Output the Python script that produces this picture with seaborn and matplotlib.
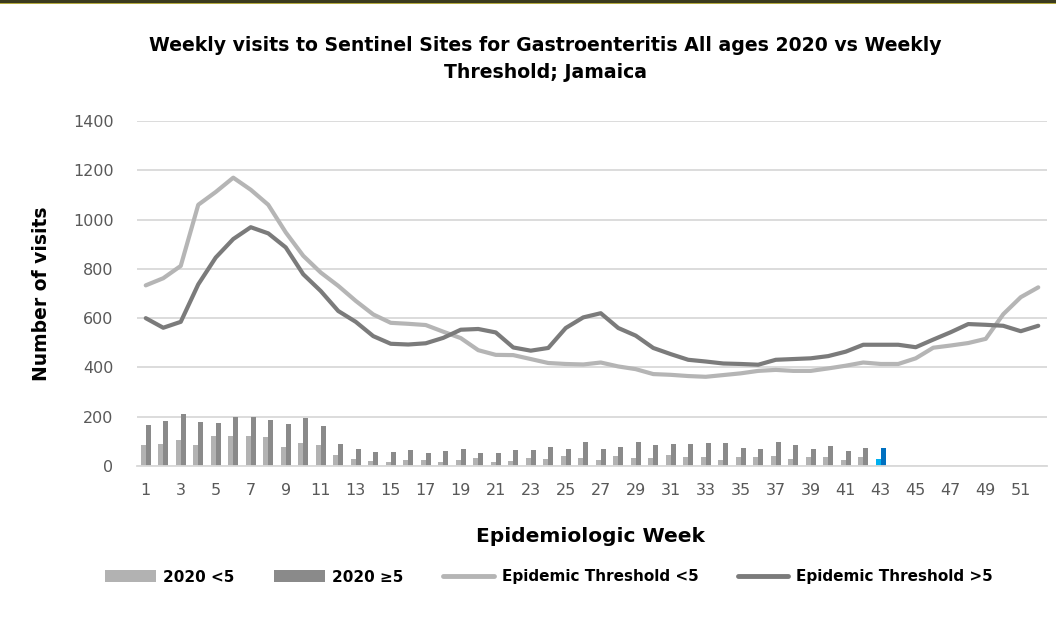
import numpy as np
import pandas as pd
import matplotlib
matplotlib.use("Agg")
import matplotlib.pyplot as plt
from matplotlib.patches import Patch, Rectangle
from matplotlib.lines import Line2D
import seaborn as sns

weeks = list(range(1, 53))
under5_2020 = [84, 90, 107, 84, 122, 120, 121, 117, 76, 92, 86, 44, 27, 19, 18, 23, 23, 15, 26, 34,
               15, 22, 31, 29, 41, 33, 24, 39, 31, 31, 46, 38, 37, 24, 35, 37, 41, 27, 35, 38,
               23, 37, 27]
over5_2020 = [167, 182, 211, 177, 174, 199, 199, 185, 170, 195, 161, 91, 67, 56, 58, 64, 52, 60, 67, 54,
              52, 63, 65, 76, 71, 97, 71, 76, 98, 87, 90, 88, 93, 95, 72, 68, 97, 84, 71, 80,
              60, 72, 72]
threshold_lt5 = [733, 762, 812, 1060, 1112, 1170, 1121, 1060, 948, 853,
                 785, 731, 670, 615, 581, 577, 572, 545, 519, 470,
                 451, 450, 434, 418, 414, 412, 420, 404, 393, 373,
                 370, 365, 362, 369, 376, 386, 390, 386, 386, 396,
                 407, 420, 414, 414, 437, 480, 489, 499, 516, 616,
                 685, 725]
threshold_ge5 = [600, 561, 585, 737, 846, 921, 969, 944, 887, 778,
                 710, 629, 585, 527, 496, 493, 498, 520, 553, 556,
                 542, 481, 468, 479, 560, 603, 620, 560, 529, 479,
                 454, 431, 424, 416, 414, 411, 431, 434, 437, 446,
                 464, 492, 492, 492, 482, 513, 543, 576, 573, 569,
                 547, 569]
series_names = ["2020 <5", "2020 \u22655", "Epidemic Threshold <5", "Epidemic Threshold >5"]
highlight_week = 43

C_LIGHT_BAR = "#b2b2b2"
C_DARK_BAR = "#8a8a8a"
C_LIGHT_LINE = "#b5b5b5"
C_DARK_LINE = "#7b7b7b"
C_HL_LIGHT = "#00b0f0"
C_HL_DARK = "#0070c0"
GRID = "#d9d9d9"
TXT = "#595959"

sns.set_theme(style="white")
plt.rcParams["font.family"] = ["DejaVu Sans"]

W, H = 1056, 619
fig = plt.figure(figsize=(W / 100, H / 100), dpi=100)
ax = fig.add_axes([137 / W, 1 - 466 / H, (1047 - 137) / W, (466 - 121) / H])

week_labels = [str(w) for w in weeks]
n_bar = len(under5_2020)
bars = pd.DataFrame({
    "week": [str(w) for w in weeks[:n_bar]] * 2,
    "value": under5_2020 + over5_2020,
    "group": [series_names[0]] * n_bar + [series_names[1]] * n_bar,
})
sns.barplot(data=bars, x="week", y="value", hue="group", order=week_labels,
            hue_order=series_names[:2], palette=[C_LIGHT_BAR, C_DARK_BAR],
            width=0.58, gap=0, legend=False, ax=ax, zorder=2, saturation=1,
            linewidth=0, edgecolor="none")

# highlight current week
hl_idx = highlight_week - 1
for cont, col in zip(ax.containers, [C_HL_LIGHT, C_HL_DARK]):
    for p in cont.patches:
        cx = p.get_x() + p.get_width() / 2
        if abs(cx - hl_idx) < 0.5:
            p.set_facecolor(col)

pos = np.arange(len(weeks))
lines = pd.DataFrame({
    "pos": np.concatenate([pos, pos]),
    "value": threshold_lt5 + threshold_ge5,
    "series": [series_names[2]] * len(weeks) + [series_names[3]] * len(weeks),
})
sns.lineplot(data=lines, x="pos", y="value", hue="series", hue_order=series_names[2:],
             palette=[C_LIGHT_LINE, C_DARK_LINE], linewidth=3.0, legend=False, ax=ax,
             zorder=3, solid_capstyle="round", solid_joinstyle="round")

ax.set_xlim(-0.5, len(weeks) - 0.5)
ax.set_ylim(0, 1400)
ax.set_yticks(np.arange(0, 1401, 200))
ax.set_xticks(pos[::2])
ax.set_xticklabels(week_labels[::2])
ax.grid(axis="y", color=GRID, linewidth=1.3, zorder=0)
ax.grid(axis="x", visible=False)
ax.set_axisbelow(True)
for s in ["top", "right", "left"]:
    ax.spines[s].set_visible(False)
ax.spines["bottom"].set_color(GRID)
ax.spines["bottom"].set_linewidth(1.3)
ax.tick_params(axis="both", length=0, labelsize=11.5, labelcolor=TXT)
ax.tick_params(axis="x", pad=12)
ax.tick_params(axis="y", pad=17)

ax.set_xlabel("Epidemiologic Week", fontsize=14.5, fontweight="bold", color="black")
ax.set_ylabel("Number of visits", fontsize=13.5, fontweight="bold", color="black")
ax.xaxis.set_label_coords((590 - 137) / 910, (466 - 527) / 345)
ax.yaxis.set_label_coords((51 - 137) / 910, 0.5)

fig.text(545 / W, 1 - 59 / H,
         "Weekly visits to Sentinel Sites for Gastroenteritis All ages 2020 vs Weekly\nThreshold; Jamaica",
         ha="center", va="center", fontsize=13.6, fontweight="bold", linespacing=1.5,
         color="black")

handles = [
    Patch(facecolor=C_LIGHT_BAR, edgecolor="none"),
    Patch(facecolor=C_DARK_BAR, edgecolor="none"),
    Line2D([0], [0], color=C_LIGHT_LINE, linewidth=3.5, solid_capstyle="round"),
    Line2D([0], [0], color=C_DARK_LINE, linewidth=3.5, solid_capstyle="round"),
]
leg = fig.legend(handles, series_names, loc="center", bbox_to_anchor=(549 / W, 1 - 577 / H),
                 ncol=4, frameon=False, handlelength=3.3, handleheight=0.8, handletextpad=0.5,
                 columnspacing=2.6, prop={"weight": "bold", "size": 11})
for t in leg.get_texts():
    t.set_color("black")

# thin dark rule along the top edge
fig.add_artist(Rectangle((0, 1 - 3 / H), 1, 3 / H, transform=fig.transFigure,
                         facecolor="#3b3b1e", edgecolor="none"))
fig.add_artist(Rectangle((0, 1 - 4 / H), 1, 1 / H, transform=fig.transFigure,
                         facecolor="#b3a93f", edgecolor="none"))

fig.savefig("out.png", dpi=100, facecolor="white")
